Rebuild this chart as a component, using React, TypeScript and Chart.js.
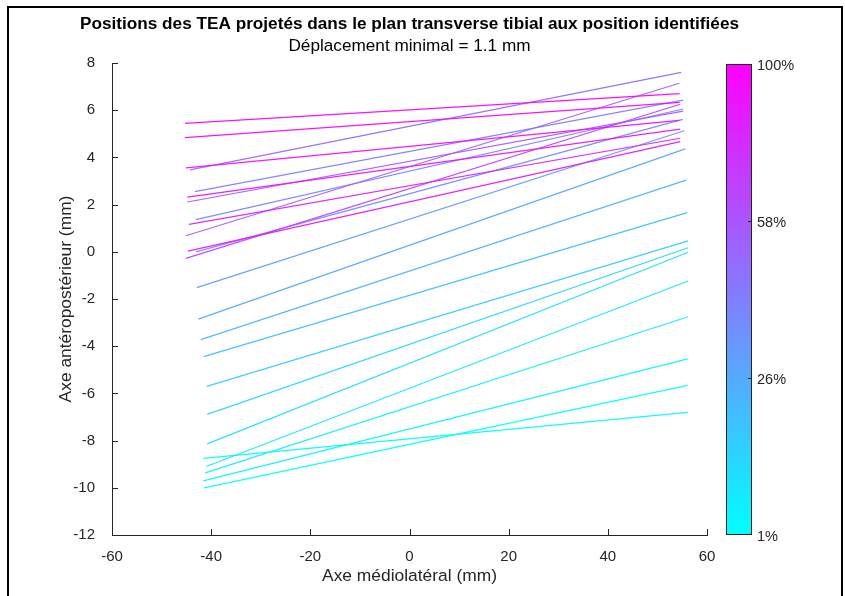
import React, { useEffect, useRef } from "react";
import { Chart, registerables } from "chart.js";

Chart.register(...registerables);

// ---- data ----
const titleText = "Positions des TEA projetés dans le plan transverse tibial aux position identifiées";
const subtitleText = "Déplacement minimal = 1.1 mm";
const xAxisTitle = "Axe médiolatéral (mm)";
const yAxisTitle = "Axe antéropostérieur (mm)";

// start / end points of each projected TEA segment (mm)
const startX = [-41.4, -41.6, -41.6, -41.2, -41.0, -40.8, -40.8, -40.9, -41.5, -42.1, -42.6, -42.9, -43.1, -43.1, -43.3, -44.3, -45.1, -44.8, -45.1, -44.5, -44.7, -44.8, -45.1, -45.3, -45.3];
const startY = [-10.0, -8.75, -9.71, -9.37, -9.1, -8.14, -6.89, -5.70, -4.44, -3.72, -2.85, -1.52, 0.0, 1.36, 2.55, 3.47, 0.68, 2.11, -0.28, 1.16, 0.03, 2.32, 3.56, 4.84, 5.44];
const endX = [56.1, 56.1, 56.1, 56.2, 56.2, 56.2, 56.2, 56.2, 56.0, 55.8, 55.6, 55.4, 55.1, 55.2, 55.2, 54.8, 54.4, 55.2, 54.6, 54.6, 54.6, 54.6, 54.4, 54.5, 54.5];
const endY = [-5.66, -6.80, -4.54, -2.75, -1.24, -0.02, 0.17, 0.46, 1.66, 3.04, 4.36, 5.13, 5.61, 6.05, 6.43, 7.60, 7.14, 5.96, 6.25, 4.81, 4.67, 5.20, 5.57, 6.33, 6.70];
// position level (0 = 1 %, 1 = 100 %) used for the colour map
const levels = [0.0, 0.01, 0.03, 0.06, 0.09, 0.12, 0.16, 0.2, 0.26, 0.3, 0.35, 0.4, 0.45, 0.48, 0.5, 0.58, 0.62, 0.65, 0.75, 0.88, 0.9, 0.92, 0.95, 0.97, 1.0];

const xTickValues = [-60, -40, -20, 0, 20, 40, 60];
const yTickValues = [-12, -10, -8, -6, -4, -2, 0, 2, 4, 6, 8];
const colorbarLabels = ["1%", "26%", "58%", "100%"];

const coolColor = (t: number, a = 1) =>
  `rgba(${Math.round(255 * t)}, ${Math.round(255 * (1 - t))}, 255, ${a})`;

const AXIS = "#262626";
const FONT = "'Liberation Sans', Arial, Helvetica, sans-serif";

const overlayPlugin = {
  id: "overlay",
  afterDraw(chart: any) {
    const { ctx, chartArea, scales } = chart;
    const { left, right, top, bottom } = chartArea;
    ctx.save();
    // inward tick marks
    ctx.strokeStyle = AXIS;
    ctx.lineWidth = 1;
    ctx.beginPath();
    for (const v of xTickValues) {
      const px = Math.round(scales.x.getPixelForValue(v)) + 0.5;
      ctx.moveTo(px, bottom);
      ctx.lineTo(px, bottom - 6);
    }
    for (const v of yTickValues) {
      const py = Math.round(scales.y.getPixelForValue(v)) + 0.5;
      ctx.moveTo(left, py);
      ctx.lineTo(left + 6, py);
    }
    ctx.stroke();

    // titles
    ctx.fillStyle = "#000";
    ctx.textAlign = "center";
    ctx.textBaseline = "middle";
    const cx = (left + right) / 2;
    ctx.font = `bold 17.2px ${FONT}`;
    ctx.fillText(titleText, cx, 24);
    ctx.font = `17.2px ${FONT}`;
    ctx.fillText(subtitleText, cx, 46);

    // axis titles
    ctx.fillStyle = AXIS;
    ctx.font = `17.4px ${FONT}`;
    ctx.fillText(xAxisTitle, cx, 576);
    ctx.save();
    ctx.translate(66, (top + bottom) / 2);
    ctx.rotate(-Math.PI / 2);
    ctx.fillText(yAxisTitle, 0, 0);
    ctx.restore();

    // colour bar
    const cbL = 726, cbR = 752, cbT = 64, cbB = 535;
    const grad = ctx.createLinearGradient(0, cbB, 0, cbT);
    grad.addColorStop(0, coolColor(0));
    grad.addColorStop(1, coolColor(1));
    ctx.fillStyle = grad;
    ctx.fillRect(cbL, cbT, cbR - cbL, cbB - cbT);
    ctx.strokeStyle = AXIS;
    ctx.lineWidth = 1;
    ctx.strokeRect(cbL + 0.5, cbT + 0.5, cbR - cbL - 1, cbB - cbT - 1);
    ctx.beginPath();
    for (let i = 1; i < colorbarLabels.length - 1; i++) {
      const y = Math.round(cbB - (i / (colorbarLabels.length - 1)) * (cbB - cbT)) + 0.5;
      ctx.moveTo(cbR, y);
      ctx.lineTo(cbR - 4, y);
    }
    ctx.stroke();
    ctx.fillStyle = AXIS;
    ctx.font = `14.5px ${FONT}`;
    ctx.textAlign = "left";
    colorbarLabels.forEach((lab, i) => {
      const y = cbB - (i / (colorbarLabels.length - 1)) * (cbB - cbT);
      ctx.fillText(lab, cbR + 5, y + 2);
    });

    // figure frame
    ctx.strokeStyle = "#000";
    ctx.lineWidth = 2;
    ctx.beginPath();
    ctx.moveTo(8, 600);
    ctx.lineTo(8, 7);
    ctx.lineTo(842, 7);
    ctx.lineTo(842, 600);
    ctx.stroke();
    ctx.restore();
  },
};

export default function App() {
  const ref = useRef<HTMLCanvasElement | null>(null);
  useEffect(() => {
    if (!ref.current) return;
    const n = startX.length;
    const datasets = startX.map((_, i) => ({
      data: [
        { x: startX[i], y: startY[i] },
        { x: endX[i], y: endY[i] },
      ],
      borderColor: coolColor(levels[i], 0.95),
      borderWidth: 1.2,
      pointRadius: 0,
      showLine: true,
      fill: false,
      order: n - i,
    }));
    const chart = new Chart(ref.current, {
      type: "line",
      data: { datasets },
      plugins: [overlayPlugin],
      options: {
        animation: false,
        responsive: false,
        maintainAspectRatio: false,
        layout: { padding: { top: 63, right: 138, left: 0, bottom: 0 } },
        plugins: { legend: { display: false }, tooltip: { enabled: false }, title: { display: false } },
        scales: {
          x: {
            type: "linear",
            min: -60,
            max: 60,
            afterFit: (s: any) => { s.height = 61; },
            afterBuildTicks: (s: any) => { s.ticks = xTickValues.map((v) => ({ value: v })); },
            grid: { display: false },
            border: { display: true, color: AXIS, width: 1 },
            ticks: { color: AXIS, font: { size: 15, family: FONT }, padding: 5, maxRotation: 0 },
          },
          y: {
            type: "linear",
            min: -12,
            max: 8,
            afterFit: (s: any) => { s.width = 112; },
            afterBuildTicks: (s: any) => { s.ticks = yTickValues.map((v) => ({ value: v })); },
            grid: { display: false },
            border: { display: true, color: AXIS, width: 1 },
            ticks: { color: AXIS, font: { size: 15, family: FONT }, padding: 9 },
          },
        },
      },
    });
    return () => chart.destroy();
  }, []);
  return (
    <div style={{ position: "fixed", left: 0, top: 0, width: 845, height: 596, background: "#fff" }}>
      <canvas ref={ref} width={845} height={596} style={{ display: "block" }} />
    </div>
  );
}
